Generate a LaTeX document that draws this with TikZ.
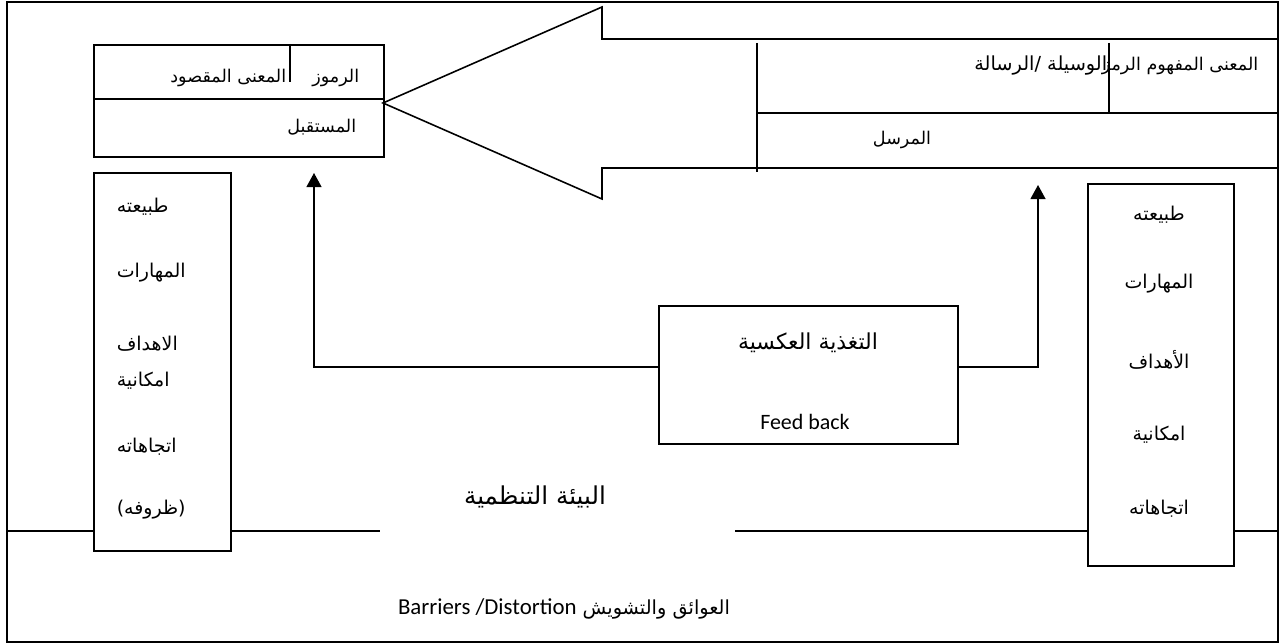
\documentclass[tikz,border=0pt]{standalone}
\usepackage{fontspec}
\setmainfont{Carlito}
\newfontfamily\ar[Script=Arabic]{DejaVu Sans}
\TeXXeTstate=1
\usetikzlibrary{arrows.meta}
\begin{document}
\begin{tikzpicture}[x=0.02cm,y=-0.02cm, line width=0.9pt,
  box/.style={draw, rectangle, inner sep=0pt, anchor=north west},
  artxt/.style={font=\ar\fontsize{10}{12}\selectfont, inner sep=0pt},
  colw/.style={artxt, font=\ar\fontsize{10.8}{12}\selectfont, anchor=west},
  colc/.style={artxt, font=\ar\fontsize{10.8}{12}\selectfont},
  fbarrow/.style={-{Triangle[length=8pt,width=8.5pt]}},
]
\useasboundingbox (0,0) rectangle (1280,644);
\draw (7,2) rectangle (1278,642);

% receiver box
\node[box, minimum width=5.8cm, minimum height=2.24cm] (recv) at (93,44) {};
\draw (93,99) -- (383,99);
\draw (290,44) -- (290,82);
\node[artxt, anchor=east] (t1) at (360,78) {\beginR الرموز\endR};
\node[artxt, anchor=east] (t2) at (287,78) {\beginR المعنى المقصود\endR};
\node[artxt, anchor=east] (t3) at (357,127) {\beginR المستقبل\endR};

% big arrow
\draw (1278,39) -- (602,39) -- (602,7) -- (383,103) -- (602,199) -- (602,168) -- (1278,168);
\draw (757,113) -- (1278,113);
\draw (757,43) -- (757,172);
\draw (1109,43) -- (1109,113);
\node[artxt, anchor=east] (s1) at (1259,66) {\beginR المعنى المفهوم الرمز\endR};
\node[artxt, anchor=east, font=\ar\fontsize{11}{12}\selectfont] (s2) at (1108,66) {\beginR الوسيلة /الرسالة\endR};
\node[artxt] (s3) at (902,140) {\beginR المرسل\endR};

% left column
\node[box, minimum width=2.74cm, minimum height=7.56cm] (lcol) at (93,172) {};
\node[colw] at (116,207) {\beginR طبيعته\endR};
\node[colw] at (116,273) {\beginR المهارات\endR};
\node[colw] at (116,344) {\beginR الاهداف\endR};
\node[colw] at (116,381) {\beginR امكانية\endR};
\node[colw] at (116,447) {\beginR اتجاهاته\endR};
\node[colw] at (116,510) {\beginR (ظروفه)\endR};

% right column
\node[box, minimum width=2.92cm, minimum height=7.64cm] (rcol) at (1087,183) {};
\node[colc] at (1159,215) {\beginR طبيعته\endR};
\node[colc] at (1159,284) {\beginR المهارات\endR};
\node[colc] at (1159,360) {\beginR الأهداف\endR};
\node[colc] at (1159,435) {\beginR امكانية\endR};
\node[colc] at (1159,509) {\beginR اتجاهاته\endR};

% feedback
\node[box, minimum width=5.98cm, minimum height=2.76cm] (fb) at (658,305) {};
\node[artxt, font=\ar\fontsize{12.5}{14}\selectfont] (fbt) at (808,343) {\beginR التغذية العكسية\endR};
\node[inner sep=0pt, font=\fontsize{12.5}{14}\selectfont] (fbe) at (805,422) {Feed back};
\coordinate (rtip) at (314,173);
\coordinate (stip) at (1038,185);
\draw[fbarrow] ([yshift=0.16cm]fb.west) -| (rtip);
\draw[fbarrow] ([yshift=0.16cm]fb.east) -| (stip);

% environment lines
\draw (7,531) -- (lcol.west |- 0,531);
\draw (lcol.east |- 0,531) -- (380,531);
\draw (735,531) -- (rcol.west |- 0,531);
\draw (rcol.east |- 0,531) -- (1278,531);
\node[artxt, font=\ar\fontsize{14}{16}\selectfont] (env) at (535,497) {\beginR البيئة التنظمية\endR};
\node[inner sep=0pt, font=\fontsize{11}{14}\selectfont] (bar) at (564,609) {\ar\beginR العوائق والتشويش \beginL{\rmfamily\fontsize{13}{14}\selectfont Barriers /Distortion}\endL\endR};
\end{tikzpicture}
\end{document}
